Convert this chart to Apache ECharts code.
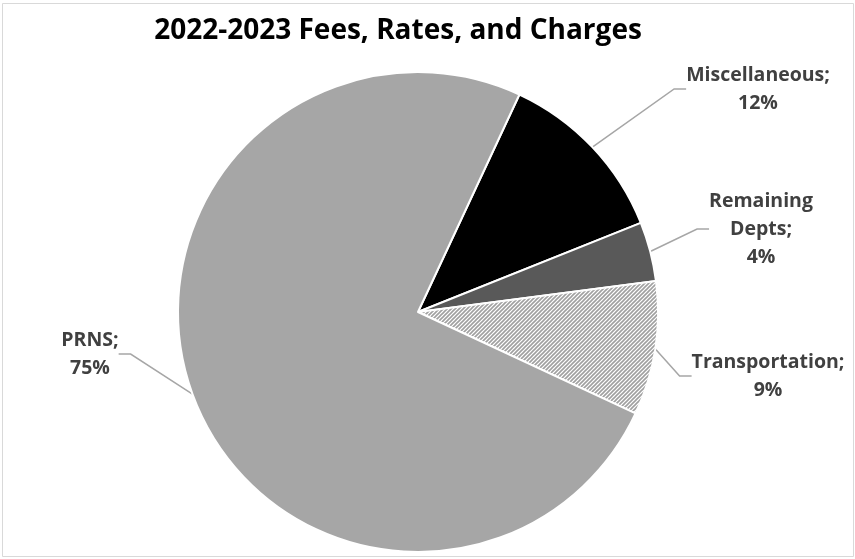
<!DOCTYPE html>
<html>
<head>
<meta charset="utf-8">
<script src="https://cdn.jsdelivr.net/npm/echarts@6/dist/echarts.min.js"></script>
<style>
  html, body { margin: 0; padding: 0; background: #fff; }
  #chart { width: 855px; height: 559px; }
</style>
</head>
<body>
<div id="chart"></div>
<script>
// 2022-2023 fees, rates and charges by department (share of total, %)
const titleText = '2022-2023 Fees, Rates, and Charges';
const categories = ['Miscellaneous', 'Remaining\nDepts', 'Transportation', 'PRNS'];
const shares = [12, 4, 9, 75];

// Upward-diagonal hatch used for the Transportation slice
function hatchPattern() {
  const c = document.createElement('canvas');
  c.width = 4; c.height = 4;
  const g = c.getContext('2d');
  g.fillStyle = '#ffffff';
  g.fillRect(0, 0, 4, 4);
  g.strokeStyle = '#a0a0a0';
  g.lineWidth = 1.6;
  g.beginPath();
  g.moveTo(-1, 5); g.lineTo(5, -1);
  g.moveTo(-1, 1); g.lineTo(1, -1);
  g.moveTo(3, 5); g.lineTo(5, 3);
  g.stroke();
  return { image: c, repeat: 'repeat' };
}

const fills = ['#000000', '#595959', hatchPattern(), '#a6a6a6'];

// where each label block sits, relative to the chart box
const labelSpots = [
  { x: 758, y: 89 },
  { x: 761, y: 229 },
  { x: 768, y: 376 },
  { x: 90, y: 354 }
];

const chart = echarts.init(document.getElementById('chart'));
chart.setOption({
  animation: false,
  backgroundColor: '#ffffff',
  title: {
    text: titleText,
    left: 393,
    top: 12,
    textAlign: 'center',
    textStyle: { fontFamily: 'Open Sans', fontWeight: 'bold', fontSize: 28, color: '#000000' }
  },
  graphic: [{
    type: 'rect',
    shape: { x: 2.5, y: 3.5, width: 851, height: 553 },
    style: { fill: 'none', stroke: '#d9d9d9', lineWidth: 1 },
    silent: true
  }],
  series: [{
    type: 'pie',
    center: [418, 312],
    radius: [0, 240],
    startAngle: 65,
    clockwise: true,
    avoidLabelOverlap: false,
    itemStyle: { borderColor: '#ffffff', borderWidth: 2 },
    label: {
      show: true,
      position: 'outside',
      formatter: p => p.name + ';\n' + p.value + '%',
      fontFamily: 'Open Sans',
      fontWeight: 'bold',
      fontSize: 19.5,
      lineHeight: 28,
      color: '#404040',
      align: 'center'
    },
    labelLine: {
      show: true,
      length: 30,
      length2: 12,
      lineStyle: { color: '#a6a6a6', width: 1.5 }
    },
    labelLayout: params => {
      const s = labelSpots[params.dataIndex];
      return { x: s.x, y: s.y, align: 'center', verticalAlign: 'middle' };
    },
    data: categories.map((name, i) => ({
      name: name,
      value: shares[i],
      itemStyle: { color: fills[i] }
    }))
  }]
});
</script>
</body>
</html>
